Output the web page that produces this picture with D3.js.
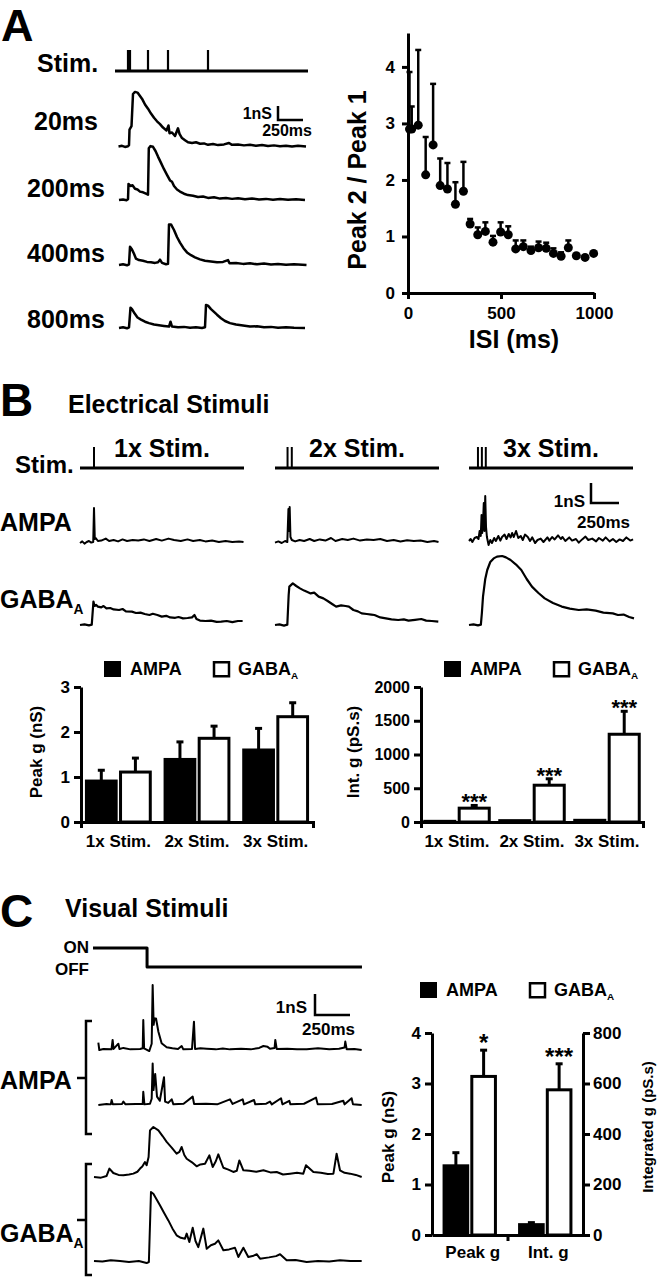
<!DOCTYPE html>
<html>
<head>
<meta charset="utf-8">
<script src="https://cdn.jsdelivr.net/npm/d3@7"></script>
<style>
body { margin: 0; background: #fff; }
svg { display: block; font-family: "Liberation Sans", Arial, sans-serif; font-weight: bold; }
.tr { fill: none; stroke: #000; stroke-linejoin: round; }
</style>
</head>
<body>
<svg id="fig" width="658" height="1280"></svg>
<script>
// ---------- data ----------
// A: paired-pulse traces, [time ms from 1st stim, conductance nS]
var stimA = [0, 20, 200, 400, 800];
var isiLabels = ["20ms", "200ms", "400ms", "800ms"];
var a20 = [[-95,0],[-60,0.05],[-30,-0.03],[0,0.02],[10,0.1],[15,1.2],[35,1.45],[50,3.75],[70,3.9],[95,3.85],[120,3.6],[145,3.35],[170,3.0],[200,2.7],[230,2.35],[260,2.05],[290,1.8],[320,1.6],[350,1.35],[385,1.15],[405,1.5],[415,0.95],[440,1.0],[470,0.75],[500,1.3],[515,0.9],[540,0.6],[570,0.45],[600,0.3],[640,0.25],[680,0.3],[720,0.2],[760,0.22],[800,0.12],[850,0.18],[900,0.1],[960,0.15],[1010,0.25],[1040,0.12],[1100,0.15],[1160,0.08],[1220,0.12],[1280,0.05],[1340,0.1],[1400,0.03],[1460,0.08],[1520,0.02],[1580,0.06],[1640,0],[1700,0.05],[1780,0]];
var a200 = [[-90,0],[-50,0.04],[-15,-0.02],[0,0.05],[5,1.15],[25,1.0],[45,1.05],[70,0.8],[95,0.75],[120,0.6],[150,0.55],[180,0.45],[200,0.38],[208,3.7],[225,3.85],[250,3.8],[275,3.5],[300,3.1],[330,2.65],[360,2.2],[390,1.8],[420,1.4],[440,1.3],[460,1.0],[490,0.75],[520,0.6],[560,0.45],[600,0.35],[650,0.3],[700,0.22],[750,0.25],[800,0.15],[860,0.2],[920,0.1],[980,0.15],[1040,0.08],[1100,0.12],[1170,0.05],[1240,0.1],[1310,0.04],[1380,0.08],[1450,0.02],[1520,0.07],[1600,0.02],[1680,0.05],[1770,0]];
var a400 = [[-90,0],[-50,0.05],[-10,-0.02],[10,0.05],[20,1.3],[40,1.1],[60,0.8],[80,0.45],[110,0.35],[150,0.3],[190,0.22],[230,0.2],[270,0.15],[300,0.2],[320,0.38],[340,0.15],[380,0.05],[400,0.08],[410,2.9],[430,2.9],[460,2.5],[490,2.0],[520,1.6],[555,1.2],[590,0.9],[630,0.7],[670,0.55],[720,0.4],[770,0.3],[830,0.25],[890,0.2],[950,0.22],[1000,0.35],[1015,0.12],[1080,0.15],[1150,0.08],[1220,0.12],[1290,0.05],[1360,0.1],[1430,0.03],[1500,0.07],[1580,0.02],[1660,0.06],[1785,0]];
var a800 = [[-90,0],[-50,0.05],[-10,-0.02],[10,0.05],[25,1.45],[40,1.35],[65,1.05],[95,0.75],[130,0.6],[170,0.45],[210,0.35],[260,0.25],[310,0.2],[360,0.15],[410,0.1],[425,0.45],[440,0.1],[500,0.05],[560,0.08],[620,0.02],[680,0.05],[740,0.0],[770,0.05],[780,1.65],[800,1.6],[830,1.35],[860,1.15],[890,0.95],[930,0.7],[970,0.5],[1020,0.35],[1080,0.25],[1150,0.18],[1220,0.1],[1290,0.12],[1360,0.05],[1430,0.08],[1500,0.02],[1580,0.06],[1660,0.02],[1770,0]];

// A: paired-pulse ratio vs ISI
var isi = [8, 20, 55, 95, 135, 173, 212, 255, 298, 334, 375, 416, 457, 498, 539, 579, 620, 661, 702, 743, 782, 823, 862, 905, 952, 998];
var ratio = [2.9, 2.9, 2.97, 2.09, 2.62, 1.9, 1.84, 1.57, 1.8, 1.22, 1.03, 1.09, 0.9, 1.08, 1.03, 0.78, 0.82, 0.75, 0.8, 0.79, 0.7, 0.65, 0.8, 0.66, 0.63, 0.7];
var ratioTop = [3.91, 3.3, 4.3, 2.76, 3.7, 2.38, 2.3, 1.96, 2.32, 1.31, 1.16, 1.25, 1.01, 1.25, 1.18, 0.93, 0.93, 0.82, 0.91, 0.89, 0.79, 0.72, 0.93, 0.66, 0.63, 0.7];

// B: electrical stimuli traces, [time ms from segment start, nS]
var stimB = [[125], [112, 150], [80, 115, 150]];
var stimBLabels = ["1x Stim.", "2x Stim.", "3x Stim."];
var bAmpa1 = [[0,0],[20,0.08],[40,-0.03],[60,0.05],[80,0.1],[100,0.02],[118,0.05],[125,1.75],[132,0.2],[140,0.25],[160,0.1],[190,0.12],[230,0.22],[260,0.1],[300,0.15],[340,0.08],[380,0.18],[420,0.1],[470,0.15],[520,0.12],[570,0.18],[620,0.1],[680,0.2],[730,0.12],[790,0.22],[840,0.15],[900,0.1],[960,0.18],[1010,0.1],[1070,0.15],[1120,0.08],[1180,0.12],[1240,0.05],[1300,0.1],[1360,0.05],[1420,0.08],[1460,0.05]];
var bAmpa2 = [[0,0.02],[30,0.08],[60,0.0],[90,0.1],[110,0.05],[120,1.7],[126,0.6],[131,1.8],[138,0.3],[150,0.15],[180,0.08],[220,0.15],[260,0.1],[310,0.2],[350,0.1],[400,0.18],[450,0.12],[500,0.25],[540,0.1],[600,0.2],[650,0.15],[700,0.22],[760,0.12],[820,0.18],[880,0.15],[940,0.2],[1000,0.1],[1060,0.15],[1120,0.08],[1180,0.14],[1240,0.1],[1300,0.12],[1360,0.05],[1420,0.1],[1460,0.05]];
var bAmpa3 = [[0,0.1],[15,0.2],[30,0.05],[50,0.25],[70,0.3],[85,0.2],[95,0.6],[105,0.35],[112,1.4],[118,0.5],[125,1.0],[132,2.0],[138,0.6],[145,2.35],[152,0.8],[160,0.3],[175,-0.1],[190,0.15],[205,0.0],[225,0.25],[240,0.1],[262,0.35],[280,0.12],[295,0.3],[318,0.42],[335,0.2],[355,0.45],[372,0.28],[385,0.5],[400,0.3],[420,0.6],[440,0.25],[462,0.35],[480,0.15],[500,0.42],[525,0.3],[545,0.1],[565,0.28],[590,0.0],[612,0.15],[640,0.22],[665,0.05],[700,0.28],[718,0.12],[742,0.3],[765,0.18],[795,0.38],[820,0.2],[835,0.3],[860,0.1],[895,0.28],[920,0.12],[955,0.2],[980,0.02],[1010,0.18],[1040,0.32],[1065,0.15],[1100,0.22],[1135,0.08],[1160,0.25],[1195,0.12],[1220,0.28],[1255,0.08],[1285,0.2],[1315,0.05],[1345,0.18],[1375,0.1],[1405,0.28],[1440,0.12],[1465,0.18]];
var bGaba1 = [[0,0],[40,0.03],[80,-0.02],[105,0.02],[120,1.17],[130,0.95],[145,1.0],[160,0.92],[190,0.88],[210,0.95],[236,0.83],[270,0.85],[300,0.78],[349,0.75],[380,0.8],[410,0.68],[463,0.67],[500,0.6],[540,0.62],[578,0.55],[620,0.5],[650,0.56],[691,0.5],[730,0.42],[770,0.46],[805,0.38],[850,0.36],[880,0.4],[920,0.33],[960,0.35],[1000,0.38],[1022,0.5],[1040,0.3],[1071,0.22],[1120,0.2],[1170,0.22],[1220,0.16],[1261,0.17],[1310,0.2],[1360,0.14],[1410,0.2],[1452,0.2]];
var bGaba2 = [[0,0],[40,0.03],[80,-0.03],[110,0.02],[122,1.5],[128,1.92],[159,2.08],[190,1.95],[223,1.83],[260,1.72],[290,1.65],[318,1.58],[350,1.62],[390,1.42],[432,1.33],[470,1.2],[510,1.05],[546,0.92],[590,0.98],[630,0.95],[660,0.92],[700,0.75],[740,0.68],[774,0.58],[820,0.55],[860,0.52],[888,0.5],[940,0.38],[990,0.33],[1040,0.28],[1100,0.25],[1150,0.28],[1192,0.22],[1250,0.26],[1306,0.3],[1350,0.22],[1400,0.2],[1458,0.17]];
var bGaba3 = [[0,0],[40,0.03],[80,-0.02],[106,0.02],[115,0.6],[125,1.42],[145,2.3],[163,2.75],[190,3.15],[220,3.33],[250,3.42],[296,3.45],[330,3.38],[371,3.25],[420,3.02],[467,2.75],[515,2.3],[562,1.92],[620,1.6],[676,1.33],[750,1.1],[828,0.92],[900,0.82],[980,0.75],[1050,0.78],[1131,0.72],[1200,0.62],[1284,0.58],[1330,0.5],[1380,0.52],[1430,0.4],[1473,0.33]];

// B: bar summaries
var bCats = ["1x Stim.", "2x Stim.", "3x Stim."];
var peakAmpa = [0.91, 1.39, 1.6];
var peakAmpaErr = [1.15, 1.78, 2.08];
var peakGaba = [1.11, 1.86, 2.34];
var peakGabaErr = [1.42, 2.13, 2.65];
var intAmpa = [10, 20, 25];
var intAmpaErr = [10, 20, 25];
var intGaba = [205, 545, 1300];
var intGabaErr = [245, 640, 1640];
var intStars = ["***", "***", "***"];

// C: visual stimuli traces, [time ms from trace start, nS]
var onOff = [[-7,1],[379,1],[379,0],[1914,0]];
var cTrAmpa1 = [[31,0.35],[38,0],[67,0.05],[125,0.03],[133,0.48],[140,0.05],[174,0.3],[182,0.05],[210,0.1],[260,0.03],[329,0.05],[348,0.08],[352,1.43],[358,0.08],[395,-0.05],[412,0.3],[419,3.1],[426,1.2],[432,1.5],[443,1.5],[460,0.87],[483,0.32],[519,0.13],[560,0.08],[600,0.05],[626,0.19],[638,0.03],[700,0.05],[714,1.35],[722,0.05],[760,0.08],[805,0.06],[870,0.03],[920,0.07],[971,0.03],[1050,0.06],[1120,0.03],[1180,0.1],[1210,0.19],[1240,0.15],[1257,0.06],[1290,0.1],[1295,0.48],[1305,0.05],[1380,0.06],[1450,0.03],[1519,0.04],[1600,0.08],[1680,0.03],[1750,0.06],[1790,0.12],[1795,0.4],[1805,0.03],[1860,0.05],[1912,0]];
var cTrAmpa2 = [[31,0],[90,0.05],[120,0.03],[126,0.24],[134,0.03],[200,0.05],[210,0.16],[225,0.03],[300,0.05],[348,0.05],[352,0.63],[360,0.03],[400,0.06],[412,0.3],[419,1.98],[425,0.71],[437,1.48],[450,0.4],[470,0.2],[500,1.32],[508,0.16],[530,0.1],[555,0.27],[567,0.03],[640,0.06],[705,0.4],[715,0.05],[800,0.06],[880,0.03],[971,0.27],[990,0.05],[1062,0.27],[1071,0.03],[1143,0.24],[1152,0.03],[1230,0.06],[1257,0.16],[1270,0.03],[1336,0.32],[1346,0.03],[1395,0.2],[1403,0.03],[1500,0.06],[1586,0.35],[1598,0.03],[1700,0.05],[1781,0.2],[1790,0.03],[1840,0.32],[1850,0.03],[1912,0]];
var cTrGaba1 = [[0,0],[50,-0.03],[90,0.05],[110,0.4],[138,0.19],[175,0.1],[210,0.08],[250,0.12],[281,0.16],[310,0.25],[329,0.4],[345,0.5],[364,0.71],[376,0.56],[390,0.95],[400,2.22],[424,2.38],[460,2.22],[490,1.95],[519,1.67],[555,1.4],[590,1.11],[610,1.2],[626,1.43],[645,1.05],[662,0.87],[700,0.7],[733,0.51],[760,0.6],[793,0.63],[824,1.03],[848,0.48],[870,0.75],[888,1.08],[924,0.44],[960,0.35],[995,0.24],[1020,0.3],[1038,0.79],[1067,0.32],[1110,0.3],[1160,0.25],[1210,0.32],[1260,0.22],[1305,0.24],[1350,0.12],[1400,0.16],[1450,0.2],[1495,0.16],[1514,0.56],[1567,0.24],[1620,0.2],[1670,0.14],[1710,0.16],[1733,1.11],[1757,0.32],[1790,0.2],[1829,0.16],[1870,0.1],[1912,0]];
var cTrGaba2 = [[0,0.05],[60,0.02],[120,0.08],[186,0.05],[250,0.0],[320,0.05],[376,-0.05],[392,0],[407,3.33],[424,3.25],[471,2.7],[500,2.35],[531,1.98],[560,1.6],[590,1.27],[620,1.15],[650,1.11],[662,1.35],[681,0.95],[705,1.63],[725,1.0],[745,0.71],[781,1.59],[805,0.63],[835,0.8],[864,0.87],[888,1.03],[924,0.56],[965,0.6],[1007,0.68],[1031,0.24],[1067,0.68],[1102,0.24],[1140,0.3],[1162,0.37],[1186,0.16],[1250,0.22],[1300,0.28],[1329,0.37],[1376,0.08],[1440,0.1],[1519,0],[1600,0.05],[1680,0.02],[1757,0.08],[1830,0.05],[1912,0.05]];

// C: bar summary (Peak g on left axis nS, Int. g on right axis pS.s)
var cCats = ["Peak g", "Int. g"];
var cAmpaVals = [1.37, 41];
var cAmpaErr = [1.63, 49];
var cGabaVals = [3.14, 575];
var cGabaErr = [3.66, 678];
var cStars = ["*", "***"];

// ---------- helpers ----------
var svg = d3.select("#fig");
svg.append("rect").attr("width", 658).attr("height", 1280).attr("fill", "#fff");

function txt(x, y, s, size, anchor) {
  return svg.append("text").attr("x", x).attr("y", y).attr("font-size", size)
    .attr("text-anchor", anchor || "start").text(s);
}
function gabaTxt(x, y, size, anchor) {
  var t = svg.append("text").attr("x", x).attr("y", y).attr("font-size", size)
    .attr("text-anchor", anchor || "start");
  t.append("tspan").text("GABA");
  t.append("tspan").attr("font-size", size * 0.55).attr("dy", size * 0.22).text("A");
  return t;
}
function vtxt(cx, cy, s, size) {
  return svg.append("text").attr("transform", "translate(" + cx + "," + cy + ") rotate(-90)")
    .attr("font-size", size).attr("text-anchor", "middle").text(s);
}
function trace(data, xs, ys, w) {
  svg.append("path").attr("class", "tr").attr("stroke-width", w || 2.2)
    .attr("d", d3.line().x(function(d) { return xs(d[0]); }).y(function(d) { return ys(d[1]); })(data));
}
function seg(x1, y1, x2, y2, w) {
  svg.append("line").attr("x1", x1).attr("y1", y1).attr("x2", x2).attr("y2", y2)
    .attr("stroke", "#000").attr("stroke-width", w || 2.5);
}
function scaleBar(xb, yb, xs, ys, size, nsLab, msLab) {
  var dx = xs(250) - xs(0), dy = ys(0) - ys(1);
  svg.append("path").attr("fill", "none").attr("stroke", "#000").attr("stroke-width", 2.5)
    .attr("d", "M" + xb + "," + (yb - dy) + "V" + yb + "H" + (xb + dx));
  txt(nsLab[0], nsLab[1], "1nS", size, "end");
  txt(msLab[0], msLab[1], "250ms", size, "end");
}
function styleAxis(g, size) {
  g.attr("font-size", size).attr("font-family", null).attr("font-weight", "bold");
  g.selectAll("path, line").attr("stroke", "#000").attr("stroke-width", 3);
  g.selectAll("text").attr("fill", "#000");
}
function legend(x, y, size) {
  svg.append("rect").attr("x", x).attr("y", y).attr("width", 17).attr("height", 16).attr("fill", "#000");
  txt(x + 26, y + 14, "AMPA", size);
  svg.append("rect").attr("x", x + 110).attr("y", y + 1.25).attr("width", 15).attr("height", 14)
    .attr("fill", "#fff").attr("stroke", "#000").attr("stroke-width", 2.5);
  gabaTxt(x + 134, y + 14, size);
}
function bars(band, ampaY, gabaY, ampaV, ampaE, gabaV, gabaE, cats) {
  var sub = d3.scaleBand().domain(["AMPA", "GABA"]).range([0, band.bandwidth()]).paddingInner(0.04);
  cats.forEach(function(c, i) {
    var x0 = band(c);
    [["AMPA", ampaV[i], ampaE[i], "#000", ampaY[i]], ["GABA", gabaV[i], gabaE[i], "#fff", gabaY[i]]].forEach(function(b) {
      var ys = b[4], bx = x0 + sub(b[0]), bw = sub.bandwidth();
      if (b[2] > b[1]) seg(bx + bw / 2, ys(b[1]), bx + bw / 2, ys(b[2]), 3);
      if (b[2] > b[1]) seg(bx + bw / 2 - 3.5, ys(b[2]), bx + bw / 2 + 3.5, ys(b[2]), 3);
      svg.append("rect").attr("x", bx + 1.5).attr("y", ys(b[1]))
        .attr("width", bw - 3).attr("height", ys(0) - ys(b[1]))
        .attr("fill", b[3]).attr("stroke", "#000").attr("stroke-width", 3);
    });
  });
  return sub;
}

// ---------- Panel A ----------
txt(1, 41, "A", 45);
var xA = d3.scaleLinear().domain([0, 1000]).range([128, 228]);
txt(37, 72, "Stim.", 25);
seg(xA(-130), 71, xA(1800), 71, 3);
stimA.forEach(function(t) { seg(xA(t), 71, xA(t), 50, 2.2); });

var rowsA = [a20, a200, a400, a800];
var baseA = [146.5, 200, 265, 328];
var labYA = [130, 197, 262, 328];
rowsA.forEach(function(r, i) {
  var yA = d3.scaleLinear().domain([0, 1]).range([baseA[i], baseA[i] - 14]);
  trace(r, xA, yA, 2.5);
  txt(66, labYA[i], isiLabels[i], 25, "middle");
});
scaleBar(278, 120, xA, d3.scaleLinear().domain([0, 1]).range([120, 106]), 16, [272, 119], [312, 136]);

// scatter
var xS = d3.scaleLinear().domain([0, 1000]).range([408, 594]);
var yS = d3.scaleLinear().domain([0, 4.6]).range([293, 33]);
svg.append("g").attr("transform", "translate(408,0)")
  .call(d3.axisLeft(yS).tickValues([0, 1, 2, 3, 4]).tickSize(6).tickSizeOuter(0).tickPadding(7).tickFormat(d3.format("d")))
  .call(styleAxis, 17);
svg.append("g").attr("transform", "translate(0,293)")
  .call(d3.axisBottom(xS).tickValues([0, 500, 1000]).tickSize(6).tickSizeOuter(0).tickPadding(8).tickFormat(d3.format("d")))
  .call(styleAxis, 17);
isi.forEach(function(t, i) {
  if (ratioTop[i] > ratio[i]) {
    seg(xS(t), yS(ratio[i]), xS(t), yS(ratioTop[i]), 2.5);
    seg(xS(t) - 3, yS(ratioTop[i]), xS(t) + 3, yS(ratioTop[i]), 2.5);
  }
  svg.append("circle").attr("cx", xS(t)).attr("cy", yS(ratio[i])).attr("r", 4.5).attr("fill", "#000");
});
vtxt(366, 180, "Peak 2 / Peak 1", 25);
txt(514, 348, "ISI (ms)", 25, "middle");

// ---------- Panel B ----------
txt(0, 416, "B", 46);
txt(68, 413, "Electrical Stimuli", 25);
txt(15, 473, "Stim.", 24);
var segStart = [80, 275, 469];
var xB = segStart.map(function(s) { return d3.scaleLinear().domain([0, 250]).range([s, s + 28]); });
segStart.forEach(function(s, i) {
  seg(s, 468, s + 164, 468, 3);
  stimB[i].forEach(function(t) { seg(xB[i](t), 468, xB[i](t), 447, 2); });
  txt(s + 82, 457, stimBLabels[i], 25, "middle");
});
txt(0, 531, "AMPA", 25);
gabaTxt(0, 608, 25);
var yBA = d3.scaleLinear().domain([0, 1]).range([543, 523]);
var yBG = d3.scaleLinear().domain([0, 1]).range([625, 605]);
[bAmpa1, bAmpa2, bAmpa3].forEach(function(r, i) { trace(r, xB[i], yBA, 2); });
[bGaba1, bGaba2, bGaba3].forEach(function(r, i) { trace(r, xB[i], yBG, 2.2); });
scaleBar(591, 503, xB[0], d3.scaleLinear().domain([0, 1]).range([503, 483]), 17, [585, 507], [630, 528]);

// B bar charts
legend(104, 661, 18);
legend(444, 661, 18);

var bandL = d3.scaleBand().domain(bCats).range([81, 313]).paddingInner(0.15).paddingOuter(0.05);
var yBL = d3.scaleLinear().domain([0, 3]).range([822, 687]);
bars(bandL, [yBL, yBL, yBL], [yBL, yBL, yBL], peakAmpa, peakAmpaErr, peakGaba, peakGabaErr, bCats);
svg.append("g").attr("transform", "translate(81,0)")
  .call(d3.axisLeft(yBL).tickValues([0, 1, 2, 3]).tickSize(7).tickSizeOuter(0).tickPadding(4).tickFormat(d3.format("d")))
  .call(styleAxis, 17);
svg.append("g").attr("transform", "translate(0,822)")
  .call(d3.axisBottom(bandL).tickValues([]).tickSizeOuter(6))
  .call(styleAxis, 16);
bCats.forEach(function(c) { txt(bandL(c) + bandL.bandwidth() / 2, 847, c, 17, "middle"); });
vtxt(42, 752, "Peak g (nS)", 17);

var bandR = d3.scaleBand().domain(bCats).range([421, 643]).paddingInner(0.1).paddingOuter(0.03);
var yBR = d3.scaleLinear().domain([0, 2000]).range([822, 687]);
var subR = bars(bandR, [yBR, yBR, yBR], [yBR, yBR, yBR], intAmpa, intAmpaErr, intGaba, intGabaErr, bCats);
svg.append("g").attr("transform", "translate(421,0)")
  .call(d3.axisLeft(yBR).tickValues([0, 500, 1000, 1500, 2000]).tickSize(7).tickSizeOuter(0).tickPadding(4).tickFormat(d3.format("d")))
  .call(styleAxis, 16);
svg.append("g").attr("transform", "translate(0,822)")
  .call(d3.axisBottom(bandR).tickValues([]).tickSizeOuter(6))
  .call(styleAxis, 16);
bCats.forEach(function(c, i) {
  txt(bandR(c) + bandR.bandwidth() / 2, 847, c, 17, "middle");
  txt(bandR(c) + subR("GABA") + subR.bandwidth() / 2, yBR(intGabaErr[i]) + 4, intStars[i], 22, "middle");
});
vtxt(359, 752, "Int. g (pS.s)", 17);

// ---------- Panel C ----------
txt(0, 927, "C", 46);
txt(65, 917, "Visual Stimuli", 25);
txt(89, 953, "ON", 17, "end");
txt(89, 975, "OFF", 17, "end");
var xC = d3.scaleLinear().domain([0, 250]).range([94, 129]);
var yOn = d3.scaleLinear().domain([0, 1]).range([967, 948]);
trace(onOff, xC, yOn, 3);

var baseC = [1050, 1105, 1177, 1262];
[cTrAmpa1, cTrAmpa2, cTrGaba1, cTrGaba2].forEach(function(r, i) {
  trace(r, xC, d3.scaleLinear().domain([0, 1]).range([baseC[i], baseC[i] - 21]), 2);
});
scaleBar(315, 1015, xC, d3.scaleLinear().domain([0, 1]).range([1015, 994]), 17, [307, 1013], [355, 1035]);

// brackets
[[1021, 1134, 1078], [1164, 1275, 1220]].forEach(function(b) {
  svg.append("path").attr("fill", "none").attr("stroke", "#000").attr("stroke-width", 2.5)
    .attr("d", "M92," + b[0] + "H86V" + b[1] + "H92M86," + b[2] + "H77");
});
txt(0, 1089, "AMPA", 25);
gabaTxt(0, 1242, 25);

// C bar chart
legend(420, 982, 18);
var bandC = d3.scaleBand().domain(cCats).range([432, 583]).paddingInner(0.28).paddingOuter(0.14);
var yCL = d3.scaleLinear().domain([0, 4]).range([1235, 1033]);
var yCR = d3.scaleLinear().domain([0, 800]).range([1235, 1033]);
var subC = bars(bandC, [yCL, yCR], [yCL, yCR], cAmpaVals, cAmpaErr, cGabaVals, cGabaErr, cCats);
svg.append("g").attr("transform", "translate(432,0)")
  .call(d3.axisLeft(yCL).tickValues([0, 1, 2, 3, 4]).tickSize(7).tickSizeOuter(0).tickPadding(4).tickFormat(d3.format("d")))
  .call(styleAxis, 17);
svg.append("g").attr("transform", "translate(583,0)")
  .call(d3.axisRight(yCR).tickValues([0, 200, 400, 600, 800]).tickSize(7).tickSizeOuter(0).tickPadding(3).tickFormat(d3.format("d")))
  .call(styleAxis, 17);
svg.append("g").attr("transform", "translate(0,1235)")
  .call(d3.axisBottom(bandC).tickValues([]).tickSizeOuter(0))
  .call(styleAxis, 17);
seg(508, 1235, 508, 1241, 3);
var yCs = [yCL, yCR];
cCats.forEach(function(c, i) {
  txt(bandC(c) + bandC.bandwidth() / 2 + 3, 1258, c, 17, "middle");
  txt(bandC(c) + subC("GABA") + subC.bandwidth() / 2, yCs[i](cGabaErr[i]) + 1, cStars[i], 24, "middle");
});
vtxt(394, 1137, "Peak g (nS)", 17);
vtxt(653, 1127, "Integrated g (pS.s)", 15);
</script>
</body>
</html>
